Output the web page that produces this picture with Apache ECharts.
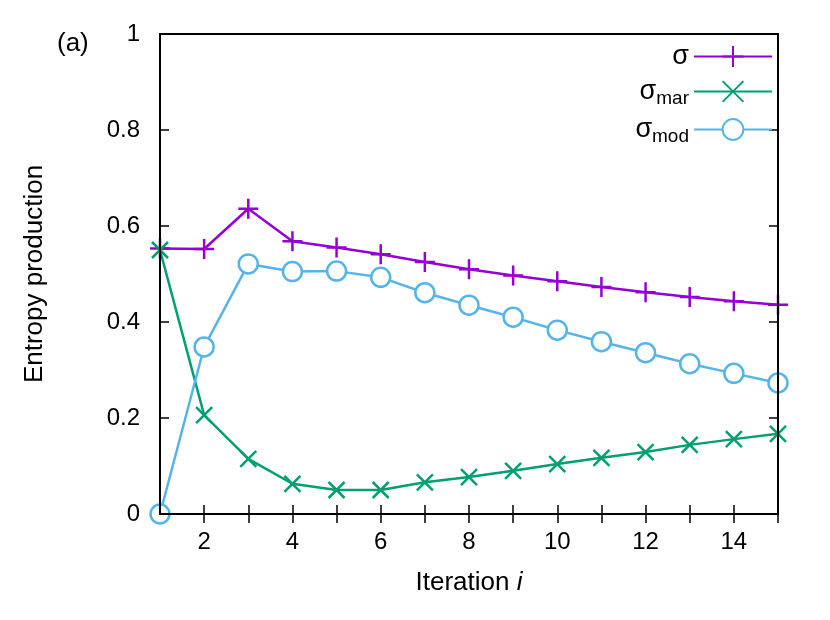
<!DOCTYPE html>
<html><head><meta charset="utf-8">
<script src="https://cdn.jsdelivr.net/npm/echarts@6/dist/echarts.min.js"></script>
<style>html,body{margin:0;padding:0;background:#fff}</style></head>
<body><div id="c" style="width:830px;height:620px"></div>
<script>
const iterations = [1,2,3,4,5,6,7,8,9,10,11,12,13,14,15];
const sigma    = [0.553,0.552,0.636,0.568,0.555,0.541,0.525,0.510,0.497,0.485,0.473,0.462,0.452,0.443,0.436];
const sigmaMar = [0.550,0.206,0.115,0.063,0.050,0.050,0.066,0.077,0.090,0.104,0.117,0.129,0.144,0.156,0.167];
const sigmaMod = [0.000,0.348,0.521,0.505,0.506,0.493,0.461,0.435,0.410,0.383,0.359,0.336,0.313,0.293,0.273];
const xTickLabels = ['2','4','6','8','10','12','14'];
const F = 'Liberation Sans';
const pair = a => iterations.map((x,i)=>[x,a[i]]);
const plus = 'path://M0,-1L0,1M-1,0L1,0';
const cross = 'path://M-1,-1L1,1M-1,1L1,-1';
const chart = echarts.init(document.getElementById('c'));
const rich = {sub:{fontSize:19,fontFamily:F,color:'#000',verticalAlign:'bottom',padding:[14,0,0,0]}};
const tick = {inside:true,length:9,lineStyle:{color:'#000',width:1.5}};
chart.setOption({
  animation:false,
  grid:{left:160,right:52,top:34,bottom:106},
  title:{text:'(a)',left:52,top:26,textStyle:{fontFamily:F,fontSize:26,fontWeight:'normal',color:'#000'}},
  legend:{right:52,top:38,orient:'vertical',align:'right',itemGap:8,itemWidth:78,itemHeight:26,
    textStyle:{fontFamily:F,fontSize:27,color:'#000',rich:rich},
    formatter:n=>n==='σ'?'σ':(n==='σmar'?'σ{sub|mar}':'σ{sub|mod}')},
  xAxis:[{type:'value',min:1,max:15,interval:1,
    name:'Iteration {i|i}',nameLocation:'middle',nameGap:56,
    nameTextStyle:{fontFamily:F,fontSize:26,color:'#000',rich:{i:{fontStyle:'italic',fontFamily:F,fontSize:26,color:'#000'}}},
    axisLine:{lineStyle:{color:'#000',width:2}},axisTick:tick,
    axisLabel:{fontFamily:F,fontSize:24,color:'#000',margin:16,formatter:v=>xTickLabels.includes(String(v))?String(v):''},
    splitLine:{show:false}},
    {type:'value',position:'top',min:1,max:15,interval:1,axisLine:{show:false},axisTick:tick,axisLabel:{show:false},splitLine:{show:false}}],
  yAxis:[{type:'value',min:0,max:1,interval:0.2,
    name:'Entropy production',nameLocation:'middle',nameGap:112,
    nameTextStyle:{fontFamily:F,fontSize:26,color:'#000'},
    axisLine:{show:true,lineStyle:{color:'#000',width:2}},axisTick:tick,
    axisLabel:{fontFamily:F,fontSize:24,color:'#000',margin:20,formatter:v=>String(Math.round(v*10)/10)},
    splitLine:{show:false}},
    {type:'value',position:'right',min:0,max:1,interval:0.2,axisLine:{show:false},axisTick:{...tick,show:true},axisLabel:{show:false},splitLine:{show:false}}],
  graphic:[{type:'rect',shape:{x:160,y:34,width:618,height:480},style:{fill:'none',stroke:'#000',lineWidth:2},z:10}],
  series:[
    {name:'σ',type:'line',data:pair(sigma),symbol:plus,symbolSize:20,
     lineStyle:{color:'#9400d3',width:2.5},itemStyle:{color:'#9400d3',borderColor:'#9400d3',borderWidth:2.5}},
    {name:'σmar',type:'line',data:pair(sigmaMar),symbol:cross,symbolSize:16,
     lineStyle:{color:'#009e73',width:2.5},itemStyle:{color:'#009e73',borderColor:'#009e73',borderWidth:2.5}},
    {name:'σmod',type:'line',data:pair(sigmaMod),symbol:'circle',symbolSize:19,
     lineStyle:{color:'#56b4e9',width:2.5},itemStyle:{color:'#fff',borderColor:'#56b4e9',borderWidth:2.5}}
  ]
});
</script></body></html>
